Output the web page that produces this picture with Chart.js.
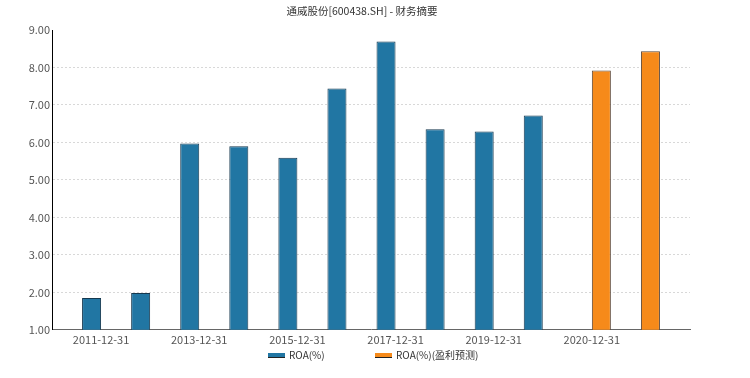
<!DOCTYPE html>
<html>
<head>
<meta charset="utf-8">
<script src="https://cdn.jsdelivr.net/npm/chart.js@4/dist/chart.umd.min.js"></script>
<style>
  html, body { margin: 0; padding: 0; background: #fff; }
  #wrap { width: 750px; height: 378px; position: relative; }
</style>
</head>
<body>
<div id="wrap"><canvas id="chart"></canvas></div>
<script>
// empty slots at both ends keep the bars one category away from the axes
const categories = ['', '2011-12-31', '2012-12-31', '2013-12-31', '2014-12-31', '2015-12-31', '2016-12-31',
    '2017-12-31', '2018-12-31', '2019-12-31', '2020-09-30', '2020-12-31', '2021-12-31', ''];
const roa = [null, 1.85, 1.98, 5.97, 5.90, 5.59, 7.44, 8.69, 6.35, 6.29, 6.72, null, null, null];
const roaForecast = [null, null, null, null, null, null, null, null, null, null, null, 7.92, 8.43, null];
const shownTicks = ['2011-12-31', '2013-12-31', '2015-12-31', '2017-12-31', '2019-12-31', '2020-12-31'];

const font = "'Noto Sans CJK SC', 'Noto Sans', sans-serif";
const titleText = '通威股份[600438.SH] - 财务摘要';

// title and legend drawn by hand so they sit where the original puts them
const headerFooter = {
    id: 'headerFooter',
    afterDraw(chart) {
        const ctx = chart.ctx;
        ctx.save();
        ctx.fillStyle = '#333';
        ctx.font = '10.5px ' + font;
        ctx.textAlign = 'center';
        ctx.textBaseline = 'middle';
        ctx.fillText(titleText, 362, 11);

        ctx.font = '10px ' + font;
        ctx.textAlign = 'left';
        const startX = [268, 375];
        chart.data.datasets.forEach((ds, i) => {
            const x = startX[i];
            ctx.fillStyle = ds.backgroundColor;
            ctx.fillRect(x, 353, 17, 5);
            ctx.fillStyle = '#222';
            ctx.fillRect(x, 357, 17, 1);
            ctx.fillStyle = '#333';
            ctx.fillText(ds.label, x + 21, 355);
        });
        ctx.restore();
    }
};

new Chart(document.getElementById('chart'), {
    type: 'bar',
    data: {
        labels: categories,
        datasets: [
            {
                label: 'ROA(%)',
                data: roa,
                backgroundColor: '#2176a3',
                borderColor: '#16384f',
                borderWidth: 1,
                categoryPercentage: 0.775,
                barPercentage: 1
            },
            {
                label: 'ROA(%)(盈利预测)',
                data: roaForecast,
                backgroundColor: '#f68a1a',
                borderColor: '#5a4535',
                borderWidth: 1,
                categoryPercentage: 0.775,
                barPercentage: 1
            }
        ]
    },
    plugins: [headerFooter],
    options: {
        responsive: true,
        maintainAspectRatio: false,
        animation: false,
        layout: { padding: { left: 0, right: 60, top: 30, bottom: 29 } },
        plugins: {
            title: { display: false },
            legend: { display: false },
            tooltip: { enabled: false }
        },
        scales: {
            x: {
                offset: false,
                grid: { display: false, drawTicks: false },
                border: { color: '#666' },
                ticks: {
                    autoSkip: false,
                    maxRotation: 0,
                    color: '#555',
                    padding: 3,
                    font: { family: font, size: 11 },
                    callback: function (value) {
                        const label = categories[value];
                        return shownTicks.includes(label) ? label : '';
                    }
                }
            },
            y: {
                min: 1,
                max: 9,
                ticks: {
                    stepSize: 1,
                    color: '#555',
                    padding: 2,
                    font: { family: font, size: 11 },
                    callback: (value) => value.toFixed(2)
                },
                grid: {
                    color: (ctx) => (ctx.tick.value === 9 || ctx.tick.value === 1) ? 'rgba(0,0,0,0)' : '#d8d8d8',
                    drawTicks: false
                },
                border: { color: '#000', dash: [2, 2], display: true },
                afterFit: (scale) => { scale.width = 52; }
            }
        }
    }
});
</script>
</body>
</html>
